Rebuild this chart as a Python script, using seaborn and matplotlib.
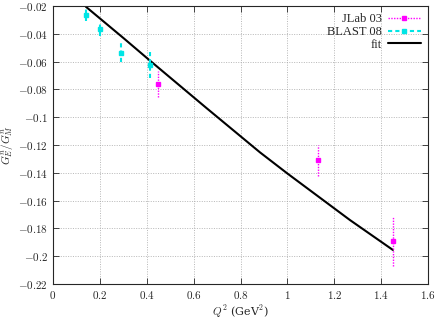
import numpy as np
import pandas as pd
import matplotlib
matplotlib.use("Agg")
import matplotlib.pyplot as plt
import seaborn as sns
from matplotlib.ticker import FuncFormatter
from matplotlib.lines import Line2D

# data
jlab_q2 = [0.45, 1.13, 1.45]
jlab_ratio = [-0.076, -0.131, -0.189]
jlab_err = [0.0095, 0.011, 0.018]

blast_q2 = [0.14, 0.20, 0.29, 0.415]
blast_ratio = [-0.0265, -0.0365, -0.0535, -0.0625]
blast_err = [0.004, 0.005, 0.007, 0.0095]

fit_q2 = [0.14, 0.30, 0.415, 0.656, 0.883, 1.0, 1.267, 1.45]
fit_ratio = [-0.0205, -0.0430, -0.0595, -0.0936, -0.1253, -0.1405, -0.1740, -0.1955]

sns.set_style("ticks")
plt.rcParams["font.family"] = ["DejaVu Serif"]
plt.rcParams["mathtext.fontset"] = "cm"

MAG = "#ff00ff"
CYA = "#00e5e5"

fig, ax = plt.subplots(figsize=(4.36, 3.27), dpi=100)
fig.subplots_adjust(left=0.1216, right=0.9817, top=0.9817, bottom=0.1315)

fit = pd.DataFrame({"q2": fit_q2, "r": fit_ratio})

eb = ax.errorbar(jlab_q2, jlab_ratio, yerr=jlab_err, fmt="s", color=MAG,
                 ms=3, elinewidth=1.0, capsize=0, zorder=3)
eb[-1][0].set_linestyle((0, (1, 1)))
eb2 = ax.errorbar(blast_q2, blast_ratio, yerr=blast_err, fmt="s", color=CYA,
                  ms=3, elinewidth=1.5, capsize=0, zorder=3)
eb2[-1][0].set_linestyle((0, (2, 1.5)))

sns.lineplot(data=fit, x="q2", y="r", color="black", lw=1.5, ax=ax, zorder=2)

ax.set_xlim(0, 1.6)
ax.set_ylim(-0.22, -0.02)
ax.set_xticks(np.arange(0, 1.61, 0.2))
ax.set_yticks(np.arange(-0.22, -0.019, 0.02))

def fmt(v, pos):
    s = f"{v:.2f}".rstrip("0").rstrip(".")
    if s in ("-0", "0"):
        s = "0"
    return "$" + s + "$"

ax.xaxis.set_major_formatter(FuncFormatter(fmt))
ax.yaxis.set_major_formatter(FuncFormatter(fmt))
ax.tick_params(direction="in", top=True, right=True, labelsize=8, length=4, width=0.6)
for s in ax.spines.values():
    s.set_linewidth(0.8)

ax.grid(True, color="#a0a0a0", lw=0.5, ls=(0, (1.5, 2)))

ax.set_xlabel(r"$Q^2$ (GeV$^2$)", fontsize=8, labelpad=2)
ax.set_ylabel(r"$G_E^n/G_M^n$", fontsize=8, labelpad=2)

handles = [
    Line2D([], [], color=MAG, ls=(0, (1, 1)), lw=1.0, marker="s", ms=3),
    Line2D([], [], color=CYA, ls=(0, (2, 1.5)), lw=1.5, marker="s", ms=3),
    Line2D([], [], color="black", lw=1.5),
]
leg = ax.legend(handles, ["JLab 03", "BLAST 08", "fit"], loc="upper right",
                frameon=False, markerfirst=False, fontsize=9, handlelength=2.6,
                borderaxespad=0.2, labelspacing=0.05, handletextpad=0.5)
for t in leg.get_texts():
    t.set_family("Liberation Serif")

fig.savefig("out.png", dpi=100)
